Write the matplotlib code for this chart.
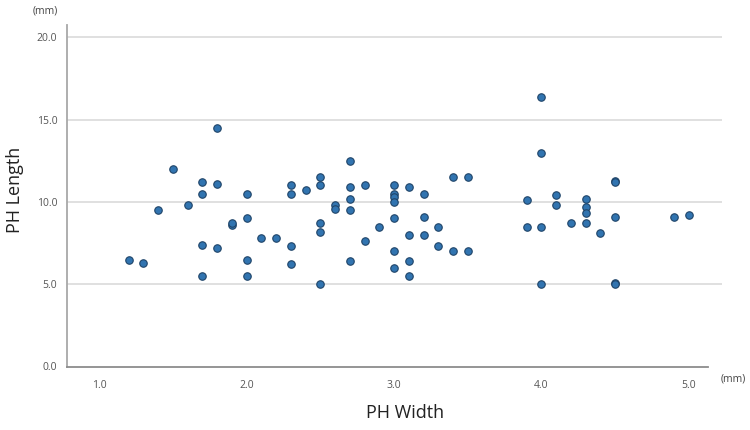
import matplotlib.pyplot as plt

# PH width / length measurements (mm)
ph_width = [1.2, 1.3, 1.4, 1.5, 1.6,
            1.7, 1.7, 1.7, 1.7,
            1.8, 1.8, 1.8,
            1.9, 1.9,
            2.0, 2.0, 2.0, 2.0,
            2.1, 2.2,
            2.3, 2.3, 2.3, 2.3,
            2.4,
            2.5, 2.5, 2.5, 2.5, 2.5,
            2.6, 2.6,
            2.7, 2.7, 2.7, 2.7, 2.7,
            2.8, 2.8,
            2.9,
            3.0, 3.0, 3.0, 3.0, 3.0, 3.0, 3.0,
            3.1, 3.1, 3.1, 3.1,
            3.2, 3.2, 3.2,
            3.3, 3.3,
            3.4, 3.4,
            3.5, 3.5,
            3.9, 3.9,
            4.0, 4.0, 4.0, 4.0,
            4.1, 4.1,
            4.2,
            4.3, 4.3, 4.3, 4.3,
            4.4,
            4.5, 4.5, 4.5, 4.5, 4.5,
            4.9, 5.0]
ph_length = [6.5, 6.3, 9.5, 12.0, 9.8,
             11.2, 10.5, 7.4, 5.5,
             14.5, 11.1, 7.2,
             8.6, 8.7,
             10.5, 9.0, 6.5, 5.5,
             7.8, 7.8,
             11.0, 10.5, 7.3, 6.2,
             10.7,
             11.5, 11.0, 8.7, 8.2, 5.0,
             9.8, 9.6,
             12.5, 10.9, 10.2, 9.5, 6.4,
             11.0, 7.6,
             8.5,
             11.0, 10.5, 10.3, 10.0, 9.0, 7.0, 6.0,
             10.9, 8.0, 6.4, 5.5,
             10.5, 9.1, 8.0,
             8.5, 7.3,
             11.5, 7.0,
             11.5, 7.0,
             10.1, 8.5,
             16.4, 13.0, 8.5, 5.0,
             10.4, 9.8,
             8.7,
             10.2, 9.7, 9.3, 8.7,
             8.1,
             11.3, 11.2, 9.1, 5.1, 5.0,
             9.1, 9.2]

y_ticks = [0, 5, 10, 15, 20]
x_ticks = [1, 2, 3, 4, 5]

plt.rcParams['font.family'] = ['Open Sans', 'DejaVu Sans']

fig = plt.figure(figsize=(7.5, 4.3), dpi=100)
ax = fig.add_axes([67 / 750, 63.5 / 430, 655 / 750, 341.5 / 430])

ax.set_xlim(0.7815, 5.225)
ax.set_ylim(0, 20.75)

# light horizontal gridlines
for yv in y_ticks[1:]:
    ax.axhline(yv, color='#e0e0e0', lw=1.4, zorder=1)

ax.scatter(ph_width, ph_length, s=29, color='#3174b0', edgecolor='#1f4468',
           linewidth=0.8, zorder=3)

for side in ['top', 'right']:
    ax.spines[side].set_visible(False)
ax.spines['left'].set_color('#a8a8a8')
ax.spines['bottom'].set_color('#8c8c8c')
ax.spines['left'].set_linewidth(1.3)
ax.spines['bottom'].set_linewidth(1.3)
ax.spines['bottom'].set_bounds(0.7815, 5.13)

ax.set_yticks(y_ticks)
ax.set_yticklabels(['%.1f' % v for v in y_ticks])
ax.set_xticks(x_ticks)
ax.set_xticklabels(['%.1f' % v for v in x_ticks])
ax.tick_params(axis='y', length=0, pad=7, labelsize=7.5, labelcolor='#555555')
ax.tick_params(axis='x', length=0, pad=10, labelsize=7.5, labelcolor='#555555')

fig.text(45 / 750, 1 - 11 / 430, '(mm)', ha='center', va='center',
         fontsize=7.5, color='#444444')
fig.text(733 / 750, 1 - 379 / 430, '(mm)', ha='center', va='center',
         fontsize=7.5, color='#444444')

fig.text(405 / 750, 1 - 413 / 430, 'PH Width', ha='center', va='center',
         fontsize=13, color='#222222')
fig.text(15 / 750, 1 - 190 / 430, 'PH Length', ha='center', va='center',
         rotation=90, fontsize=13, color='#222222')

fig.savefig('out.png', dpi=100)
